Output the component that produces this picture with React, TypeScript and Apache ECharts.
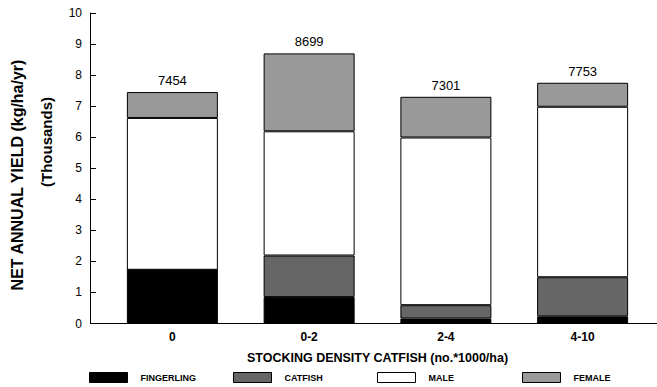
import React, { useEffect, useRef } from "react";
import * as echarts from "echarts";

const categories = ["0", "0-2", "2-4", "4-10"];
const fingerling = [1.73, 0.85, 0.16, 0.23];
const catfish = [0, 1.34, 0.43, 1.26];
const male = [4.89, 4.0, 5.4, 5.49];
const female = [0.834, 2.509, 1.311, 0.773];
const totals = [7454, 8699, 7301, 7753];
const yTicks = [0, 1, 2, 3, 4, 5, 6, 7, 8, 9, 10];

const seriesNames = ["FINGERLING", "CATFISH", "MALE", "FEMALE"];
const seriesColors = ["#000000", "#666666", "#ffffff", "#999999"];
const legendLefts = [89, 233, 377, 522];

const FONT = "Liberation Sans, Arial, sans-serif";

export default function App() {
  const ref = useRef<HTMLDivElement>(null);
  useEffect(() => {
    if (!ref.current) return;
    const chart = echarts.init(ref.current, null, { renderer: "svg" });
    const datasets = [fingerling, catfish, male, female];
    chart.setOption({
      animation: false,
      backgroundColor: "#ffffff",
      textStyle: { fontFamily: FONT, color: "#000" },
      grid: { left: 104, right: 6, top: 13, bottom: 63.5, containLabel: false },
      xAxis: {
        type: "category",
        data: categories,
        axisLine: { show: true, lineStyle: { color: "#000", width: 1 } },
        axisTick: { show: false },
        axisLabel: { color: "#000", fontWeight: "bold", fontSize: 12, margin: 7, fontFamily: FONT },
        name: "STOCKING DENSITY CATFISH (no.*1000/ha)",
        nameLocation: "middle",
        nameGap: 28,
        nameTextStyle: { color: "#000", fontWeight: "bold", fontSize: 12.5, fontFamily: FONT },
      },
      yAxis: {
        type: "value",
        min: 0,
        max: yTicks[yTicks.length - 1],
        interval: 1,
        offset: 14,
        axisLine: { show: true, lineStyle: { color: "#000", width: 1 } },
        axisTick: { show: true, inside: true, length: 6, lineStyle: { color: "#000" } },
        axisLabel: { color: "#000", fontSize: 12, margin: 8, fontFamily: FONT },
        splitLine: { show: false },
      },
      legend: seriesNames.map((n, i) => ({
        data: [n],
        left: legendLefts[i],
        top: 372,
        padding: 0,
        itemWidth: 38,
        itemHeight: 10,
        icon: "rect",
        itemStyle: { borderColor: "#000", borderWidth: 1 },
        textStyle: { fontSize: 9, fontWeight: "bold", color: "#000", fontFamily: FONT, padding: [0, 0, 0, 8] },
        selectedMode: false,
      })),
      graphic: [
        {
          type: "line",
          shape: { x1: 90, y1: 323.5, x2: 657, y2: 323.5 },
          style: { stroke: "#000", lineWidth: 1 },
          silent: true,
        },
        {
          type: "text",
          x: 17,
          y: 175,
          rotation: Math.PI / 2,
          style: {
            text: "NET ANNUAL YIELD (kg/ha/yr)",
            fontSize: 16,
            fontWeight: "bold",
            fontFamily: FONT,
            fill: "#000",
            align: "center",
            verticalAlign: "middle",
          },
        },
        {
          type: "text",
          x: 46,
          y: 142,
          rotation: Math.PI / 2,
          style: {
            text: "(Thousands)",
            fontSize: 15,
            fontWeight: "bold",
            fontFamily: FONT,
            fill: "#000",
            align: "center",
            verticalAlign: "middle",
          },
        },
      ],
      series: seriesNames.map((n, i) => ({
        name: n,
        type: "bar",
        stack: "yield",
        barWidth: 91,
        data: datasets[i],
        itemStyle: { color: seriesColors[i], borderColor: "#000", borderWidth: 1 },
        label:
          i === 3
            ? {
                show: true,
                position: "top",
                distance: 5,
                fontSize: 13,
                color: "#000",
                fontFamily: FONT,
                formatter: (p: any) => String(totals[p.dataIndex]),
              }
            : { show: false },
      })),
    });
    return () => chart.dispose();
  }, []);
  return <div ref={ref} style={{ width: 657, height: 387, position: "absolute", left: 0, top: 0 }} />;
}
